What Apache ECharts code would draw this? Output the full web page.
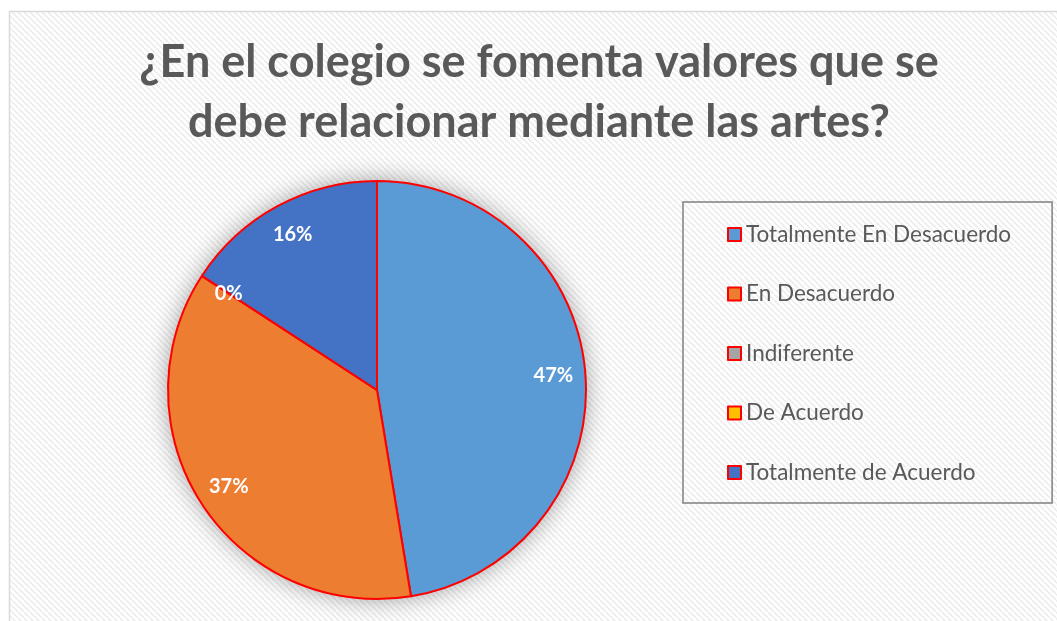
<!DOCTYPE html>
<html>
<head>
<meta charset="utf-8">
<script src="https://cdn.jsdelivr.net/npm/echarts@6/dist/echarts.min.js"></script>
<style>
  html, body { margin: 0; padding: 0; background: #fff; }
  #chart { width: 1057px; height: 621px; }
</style>
</head>
<body>
<div id="chart"></div>
<script>
const categories = ['Totalmente En Desacuerdo', 'En Desacuerdo', 'Indiferente', 'De Acuerdo', 'Totalmente de Acuerdo'];
const shares = [47.4, 36.8, 0, 0, 15.8];
const colors = ['#5B9BD5', '#ED7D31', '#A5A5A5', '#FFC000', '#4472C4'];
const titleText = '¿En el colegio se fomenta valores que se\ndebe relacionar mediante las artes?';

(function(){
  const dom = document.getElementById('chart');
  const chart = echarts.init(dom, null, { renderer: 'canvas' });

  // diagonal stripe fill for the chart frame
  const tile = document.createElement('canvas');
  tile.width = 6;
  tile.height = 6;
  const ctx = tile.getContext('2d');
  ctx.fillStyle = '#ffffff';
  ctx.fillRect(0, 0, 6, 6);
  ctx.strokeStyle = '#ececec';
  ctx.lineWidth = 1.6;
  [-6, 0, 6].forEach(c => {
    ctx.beginPath();
    ctx.moveTo(0, c);
    ctx.lineTo(6, 6 + c);
    ctx.stroke();
  });

  const data = categories.map((name, i) => ({
    name,
    value: shares[i],
    itemStyle: { color: colors[i] }
  }));

  const center = [377, 390];
  const outer = 209;

  chart.setOption({
    animation: false,
    graphic: {
      elements: [{
        type: 'rect',
        z: -10,
        silent: true,
        shape: { x: 9.5, y: 11.5, width: 1060, height: 620 },
        style: { fill: { image: tile, repeat: 'repeat' }, stroke: '#d9d9d9', lineWidth: 1.5 }
      }]
    },
    title: {
      text: titleText,
      left: 539,
      textAlign: 'center',
      top: 32,
      padding: 0,
      textStyle: {
        fontFamily: 'Lato',
        fontWeight: 'bold',
        fontSize: 45,
        lineHeight: 60,
        color: '#595959'
      }
    },
    legend: {
      data: categories,
      orient: 'vertical',
      left: 683,
      top: 202,
      padding: [21, 41, 19, 44],
      itemGap: 36.5,
      itemWidth: 13,
      itemHeight: 13,
      icon: 'rect',
      borderColor: '#808080',
      borderWidth: 1.5,
      itemStyle: { borderColor: '#ff0000', borderWidth: 2 },
      textStyle: { fontFamily: 'Lato', fontSize: 22.5, color: '#595959' }
    },
    series: [
      {
        // soft shadow under the pie
        type: 'pie',
        name: 'shadow',
        silent: true,
        z: 1,
        center,
        radius: outer,
        label: { show: false },
        labelLine: { show: false },
        itemStyle: { color: '#ffffff', shadowBlur: 24, shadowColor: 'rgba(0,0,0,0.38)' },
        data: [{ value: 1, name: '' }]
      },
      {
        type: 'pie',
        name: 'valores',
        z: 2,
        center,
        radius: outer,
        startAngle: 90,
        clockwise: true,
        label: { show: false },
        labelLine: { show: false },
        itemStyle: { borderColor: '#ff0000', borderWidth: 2 },
        emphasis: { disabled: true },
        data
      },
      {
        // transparent ring only to place labels at ~0.83 of the radius
        type: 'pie',
        name: 'labels',
        silent: true,
        z: 3,
        center,
        radius: [139, outer],
        startAngle: 90,
        clockwise: true,
        itemStyle: { color: 'rgba(0,0,0,0)', borderWidth: 0 },
        label: {
          show: true,
          position: 'inside',
          formatter: p => Math.round(p.percent) + '%',
          fontFamily: 'Lato',
          fontWeight: 'bold',
          fontSize: 20,
          color: '#ffffff'
        },
        labelLine: { show: false },
        data: categories.map((name, i) => ({ name, value: shares[i] }))
      }
    ]
  });

  window.addEventListener('resize', () => chart.resize());
})();
</script>
</body>
</html>
